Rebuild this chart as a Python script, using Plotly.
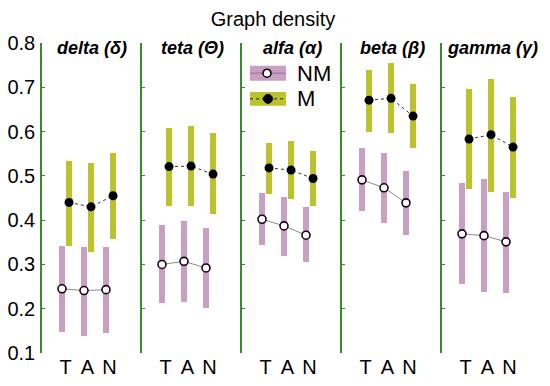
import plotly.graph_objects as go
from plotly.subplots import make_subplots

bands = ["delta (δ)", "teta (Θ)", "alfa (α)", "beta (β)", "gamma (γ)"]
conditions = ["T", "A", "N"]
y_ticks = [0.1, 0.2, 0.3, 0.4, 0.5, 0.6, 0.7, 0.8]

# NM (non-musicians): mean, low, high per band (T, A, N)
nm_mean = [[0.245, 0.241, 0.243], [0.300, 0.307, 0.292], [0.402, 0.387, 0.366],
           [0.491, 0.473, 0.439], [0.369, 0.365, 0.351]]
nm_low = [[0.147, 0.139, 0.145], [0.212, 0.216, 0.202], [0.344, 0.320, 0.306],
          [0.421, 0.393, 0.366], [0.255, 0.238, 0.236]]
nm_high = [[0.342, 0.340, 0.339], [0.389, 0.397, 0.382], [0.462, 0.452, 0.429],
           [0.562, 0.551, 0.511], [0.483, 0.492, 0.464]]

# M (musicians): mean, low, high per band (T, A, N)
m_mean = [[0.440, 0.430, 0.455], [0.521, 0.522, 0.504], [0.518, 0.513, 0.494],
          [0.671, 0.675, 0.635], [0.583, 0.593, 0.565]]
m_low = [[0.342, 0.329, 0.357], [0.433, 0.432, 0.415], [0.458, 0.448, 0.433],
         [0.598, 0.597, 0.562], [0.470, 0.464, 0.449]]
m_high = [[0.534, 0.530, 0.552], [0.609, 0.612, 0.596], [0.575, 0.579, 0.557],
          [0.739, 0.754, 0.707], [0.697, 0.719, 0.679]]

PINK = "#C8A0C2"
OLIVE = "#BCC22C"
GREEN = "#3C8A2E"
FONT = "Arial, Liberation Sans, sans-serif"

# the page body adds an 8 px offset; margins compensate so the plot lands where the reference has it
PAGE_OFF = 8

pos = [1, 2, 3]
off = 0.16
bw = 0.26

fig = make_subplots(rows=1, cols=5, horizontal_spacing=0, shared_yaxes=False)

for i in range(5):
    c = i + 1
    xp = [p - off for p in pos]
    xo = [p + off for p in pos]
    fig.add_trace(go.Bar(x=xp, y=[h - l for h, l in zip(nm_high[i], nm_low[i])],
                         base=nm_low[i], width=bw, marker=dict(color=PINK, line=dict(width=0)),
                         showlegend=False, hoverinfo="skip"), row=1, col=c)
    fig.add_trace(go.Bar(x=xo, y=[h - l for h, l in zip(m_high[i], m_low[i])],
                         base=m_low[i], width=bw, marker=dict(color=OLIVE, line=dict(width=0)),
                         showlegend=False, hoverinfo="skip"), row=1, col=c)
    fig.add_trace(go.Scatter(x=xp, y=nm_mean[i], mode="lines+markers",
                             line=dict(color="#8a8a8a", width=1),
                             marker=dict(size=8, color="white", line=dict(color="#1a0010", width=1.6)),
                             showlegend=False), row=1, col=c)
    fig.add_trace(go.Scatter(x=xo, y=m_mean[i], mode="lines+markers",
                             line=dict(color="#333333", width=1, dash="dot"),
                             marker=dict(size=9, color="black"),
                             showlegend=False), row=1, col=c)
    fig.update_xaxes(range=[-0.069, 4.476], tickvals=pos, ticktext=conditions,
                     showline=False, showgrid=False, zeroline=False, ticks="",
                     automargin=False,
                     tickfont=dict(size=20, color="black", family=FONT), row=1, col=c)
    fig.update_yaxes(range=[0.1, 0.8], tickvals=y_ticks,
                     ticktext=[f"{v:.1f}" for v in y_ticks],
                     showline=True, linecolor=GREEN, linewidth=1.5,
                     ticks="inside", ticklen=3, tickcolor=GREEN,
                     showgrid=False, zeroline=False, automargin=False,
                     showticklabels=(i == 0), ticklabelstandoff=1,
                     tickfont=dict(size=20, color="black", family=FONT), row=1, col=c)
    xref = "x domain" if i == 0 else f"x{c} domain"
    fig.add_annotation(text=f"<b><i>{bands[i]}</i></b>", xref=xref, x=0.5,
                       yref="paper", y=1, yanchor="middle", yshift=-5,
                       showarrow=False, font=dict(size=18, color="black", family=FONT))

# custom legend (paper coordinates; page pixel -> plot fraction)
def px_x(p):
    return (p - 42) / 500

def px_y(p):
    return (353 - p) / 310

shapes = []
legend_items = [("NM", PINK, 65.7, 80.7), ("M", OLIVE, 92.0, 105.7)]
for name, col, y0, y1 in legend_items:
    shapes.append(dict(type="rect", xref="paper", yref="paper",
                       x0=px_x(250), x1=px_x(286), y0=px_y(y1), y1=px_y(y0),
                       fillcolor=col, line=dict(width=0), layer="above"))
    yc = px_y((y0 + y1) / 2)
    if name == "NM":
        shapes.append(dict(type="line", xref="paper", yref="paper",
                           x0=px_x(250), x1=px_x(286), y0=yc, y1=yc,
                           line=dict(color="#9a6a90", width=1), layer="above"))
        shapes.append(dict(type="circle", xref="paper", yref="paper",
                           xsizemode="pixel", ysizemode="pixel",
                           xanchor=px_x(267), yanchor=yc, x0=-4, x1=4, y0=-4, y1=4,
                           fillcolor="white", line=dict(color="#1a0010", width=1.6), layer="above"))
    else:
        shapes.append(dict(type="line", xref="paper", yref="paper",
                           x0=px_x(250), x1=px_x(286), y0=yc, y1=yc,
                           line=dict(color="#222222", width=1, dash="dot"), layer="above"))
        shapes.append(dict(type="circle", xref="paper", yref="paper",
                           xsizemode="pixel", ysizemode="pixel",
                           xanchor=px_x(268), yanchor=yc, x0=-4.5, x1=4.5, y0=-4.5, y1=4.5,
                           fillcolor="black", line=dict(color="black", width=1), layer="above"))
    fig.add_annotation(text=name, xref="paper", yref="paper", x=px_x(295), y=yc,
                       xanchor="left", yanchor="middle", showarrow=False,
                       font=dict(size=22, color="black", family=FONT))

fig.update_layout(
    width=550, height=386,
    margin=dict(l=42 - PAGE_OFF, r=8 + PAGE_OFF, t=43 - PAGE_OFF, b=33 + PAGE_OFF),
    paper_bgcolor="white", plot_bgcolor="white",
    barmode="overlay", bargap=0,
    shapes=shapes,
    title=dict(text="Graph density", x=(273 - PAGE_OFF) / 550, xanchor="center",
               y=1 - (19 - PAGE_OFF) / 386, yanchor="middle", yref="container",
               font=dict(size=20, color="black", family=FONT)),
    showlegend=False,
)

fig.write_html("out.html")
